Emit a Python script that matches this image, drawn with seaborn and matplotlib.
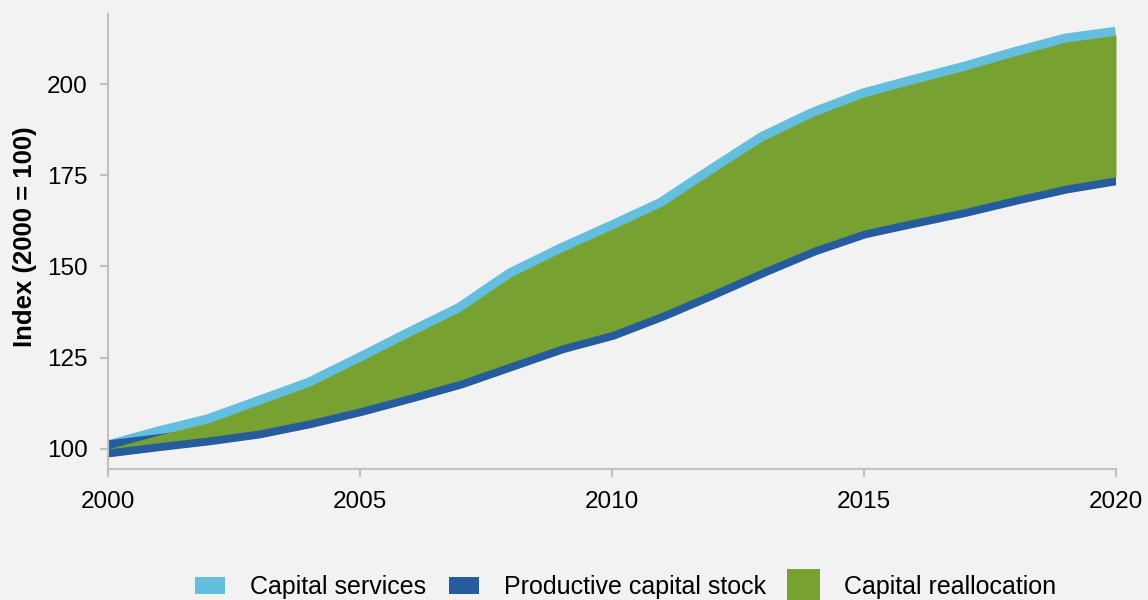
import numpy as np
import pandas as pd
import matplotlib
matplotlib.use("Agg")
import matplotlib.pyplot as plt
from matplotlib.patches import Patch
import seaborn as sns

# Index values, 2000 = 100
years = list(range(2000, 2021))
capital_services = [100.0, 103.8, 107.2, 112.2, 117.2, 124.0, 131.0, 137.8, 147.2, 154.0,
                    160.2, 166.6, 175.7, 184.6, 191.2, 196.5, 200.2, 203.8, 207.8, 211.5, 213.4]
productive_capital_stock = [100.0, 101.7, 103.3, 105.2, 108.0, 111.3, 115.0, 118.9, 123.7, 128.5,
                            132.2, 137.5, 143.4, 149.5, 155.3, 160.0, 163.0, 165.9, 169.2, 172.3, 174.6]
series_names = ["Capital services", "Productive capital stock", "Capital reallocation"]
x_ticks = [2000, 2005, 2010, 2015, 2020]
y_ticks = [100, 125, 150, 175, 200]

c_services = "#64bedd"
c_stock = "#265c9e"
c_realloc = "#77a232"
bg = "#f2f2f2"
axis_grey = "#c0c0c0"

sns.set_theme(style="white")
plt.rcParams["font.family"] = ["Liberation Sans", "DejaVu Sans"]

df = pd.DataFrame({
    "year": years * 2,
    "index": capital_services + productive_capital_stock,
    "series": [series_names[0]] * len(years) + [series_names[1]] * len(years),
})

fig = plt.figure(figsize=(11.48, 6.0), dpi=100, facecolor=bg)
ax = fig.add_axes([108 / 1148, 1 - 469 / 600, (1116 - 108) / 1148, (469 - 14) / 600])
ax.set_facecolor(bg)

# Thick index lines; the reallocation band is filled on top, between them
sns.lineplot(data=df, x="year", y="index", hue="series",
             hue_order=series_names[:2], palette=[c_services, c_stock],
             linewidth=12.2, legend=False, ax=ax,
             solid_capstyle="butt", solid_joinstyle="miter")
ax.fill_between(years, productive_capital_stock, capital_services,
                color=c_realloc, linewidth=0, zorder=3)

ax.set_xlim(2000, 2020)
ax.set_ylim(94.5, 219.2)
ax.set_xticks(x_ticks)
ax.set_xticklabels([str(t) for t in x_ticks])
ax.set_yticks(y_ticks)
ax.set_yticklabels([str(t) for t in y_ticks])

for side in ["top", "right"]:
    ax.spines[side].set_visible(False)
for side in ["left", "bottom"]:
    ax.spines[side].set_color(axis_grey)
    ax.spines[side].set_linewidth(1.5)

ax.tick_params(axis="both", which="major", length=6, width=1.5, color=axis_grey,
               labelsize=17.5, labelcolor="black", direction="out")
ax.tick_params(axis="y", pad=8.5, left=True)
ax.tick_params(axis="x", pad=10, bottom=True)

ax.set_xlabel("")
ax.set_ylabel("Index (2000 = 100)", fontsize=18.5, fontweight="bold", color="black")
ax.yaxis.set_label_coords(-0.0705, 0.51)

handles = [Patch(facecolor=c_services, edgecolor="none"),
           Patch(facecolor=c_stock, edgecolor="none"),
           Patch(facecolor=c_realloc, edgecolor="none")]
leg = fig.legend(handles, series_names, loc="center", bbox_to_anchor=(0.545, 1 - 587 / 600),
                 ncol=3, frameon=False, fontsize=18, labelcolor="black",
                 handlelength=1.2, handleheight=0.68,
                 handletextpad=1.0, columnspacing=0.9, borderaxespad=0)

# Larger swatch for the filled band entry
rect = leg.legend_handles[2]
w0, h0 = rect.get_width(), rect.get_height()
x0, y0 = rect.get_xy()
w1, h1 = w0 * 1.1, h0 * 1.9
rect.set_width(w1)
rect.set_height(h1)
rect.set_xy((x0 - (w1 - w0) / 2, y0 - (h1 - h0) / 2))

fig.savefig("out.png", dpi=100, facecolor=bg)
